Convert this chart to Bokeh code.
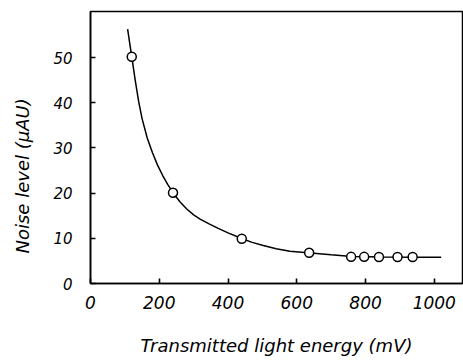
from bokeh.plotting import figure
from bokeh.models import Range1d, FixedTicker, Title
from bokeh.embed import file_html
from bokeh.resources import INLINE

# measured points
energy_mv = [120, 240, 440, 636, 758, 796, 839, 893, 937]
noise_uau = [50.2, 20.1, 9.9, 6.8, 5.9, 5.9, 5.85, 5.85, 5.85]

# fitted curve
curve_x = [108, 114, 120, 130, 140, 150, 165, 180, 195, 210, 225, 240, 260, 280, 300, 320,
           345, 370, 400, 440, 470, 500, 540, 580, 640, 700, 760, 850, 950, 1020]
curve_y = [56.3, 53.2, 50.2, 45.0, 40.3, 36.5, 32.2, 29.0, 26.2, 23.9, 21.9, 20.1, 18.1, 16.5,
           15.2, 14.2, 13.2, 12.25, 11.2, 9.95, 9.1, 8.45, 7.7, 7.15, 6.75, 6.35, 6.0, 5.85,
           5.8, 5.8]

x_ticks = [0, 200, 400, 600, 800, 1000]
y_ticks = [0, 10, 20, 30, 40, 50]

x_title = "Transmitted light energy (mV)"
y_title = "Noise level (\u03bcAU)"

FONT = "DejaVu Sans"

p = figure(width=463, height=362, output_backend="svg", toolbar_location=None,
           x_range=Range1d(0, 1082), y_range=Range1d(0, 60.2),
           min_border_left=90, min_border_right=1, min_border_top=11, min_border_bottom=79)
p.grid.visible = False
p.background_fill_color = "white"
p.border_fill_color = "white"
p.outline_line_color = "black"
p.outline_line_width = 1.5

for ax, ticks in ((p.xaxis, x_ticks), (p.yaxis, y_ticks)):
    ax.ticker = FixedTicker(ticks=ticks)
    ax.minor_tick_line_color = None
    ax.major_tick_in = 5
    ax.major_tick_out = 0
    ax.axis_line_width = 1.6
    ax.major_tick_line_width = 1.6
    ax.major_label_text_font = FONT
    ax.major_label_text_font_style = "italic"
    ax.major_label_text_color = "black"
p.xaxis.major_label_text_font_size = "17px"
p.yaxis.major_label_text_font_size = "15px"
p.xaxis.major_label_standoff = 12
p.yaxis.major_label_standoff = 18

p.xaxis.axis_label = x_title
p.xaxis.axis_label_standoff = 23
p.xaxis.axis_label_text_font = FONT
p.xaxis.axis_label_text_font_style = "italic"
p.xaxis.axis_label_text_font_size = "18px"
p.xaxis.axis_label_text_color = "black"

p.line(curve_x, curve_y, line_color="black", line_width=1.5)
p.scatter(energy_mv, noise_uau, size=9, marker="circle", fill_color="white",
          line_color="black", line_width=1.5)

p.add_layout(Title(text=y_title + "\n", align="left", offset=30, text_line_height=0.85,
                   vertical_align="bottom", standoff=0, text_font=FONT,
                   text_font_style="italic", text_font_size="18px", text_color="black"),
             "left")

open("out.html", "w").write(file_html(p, INLINE))
